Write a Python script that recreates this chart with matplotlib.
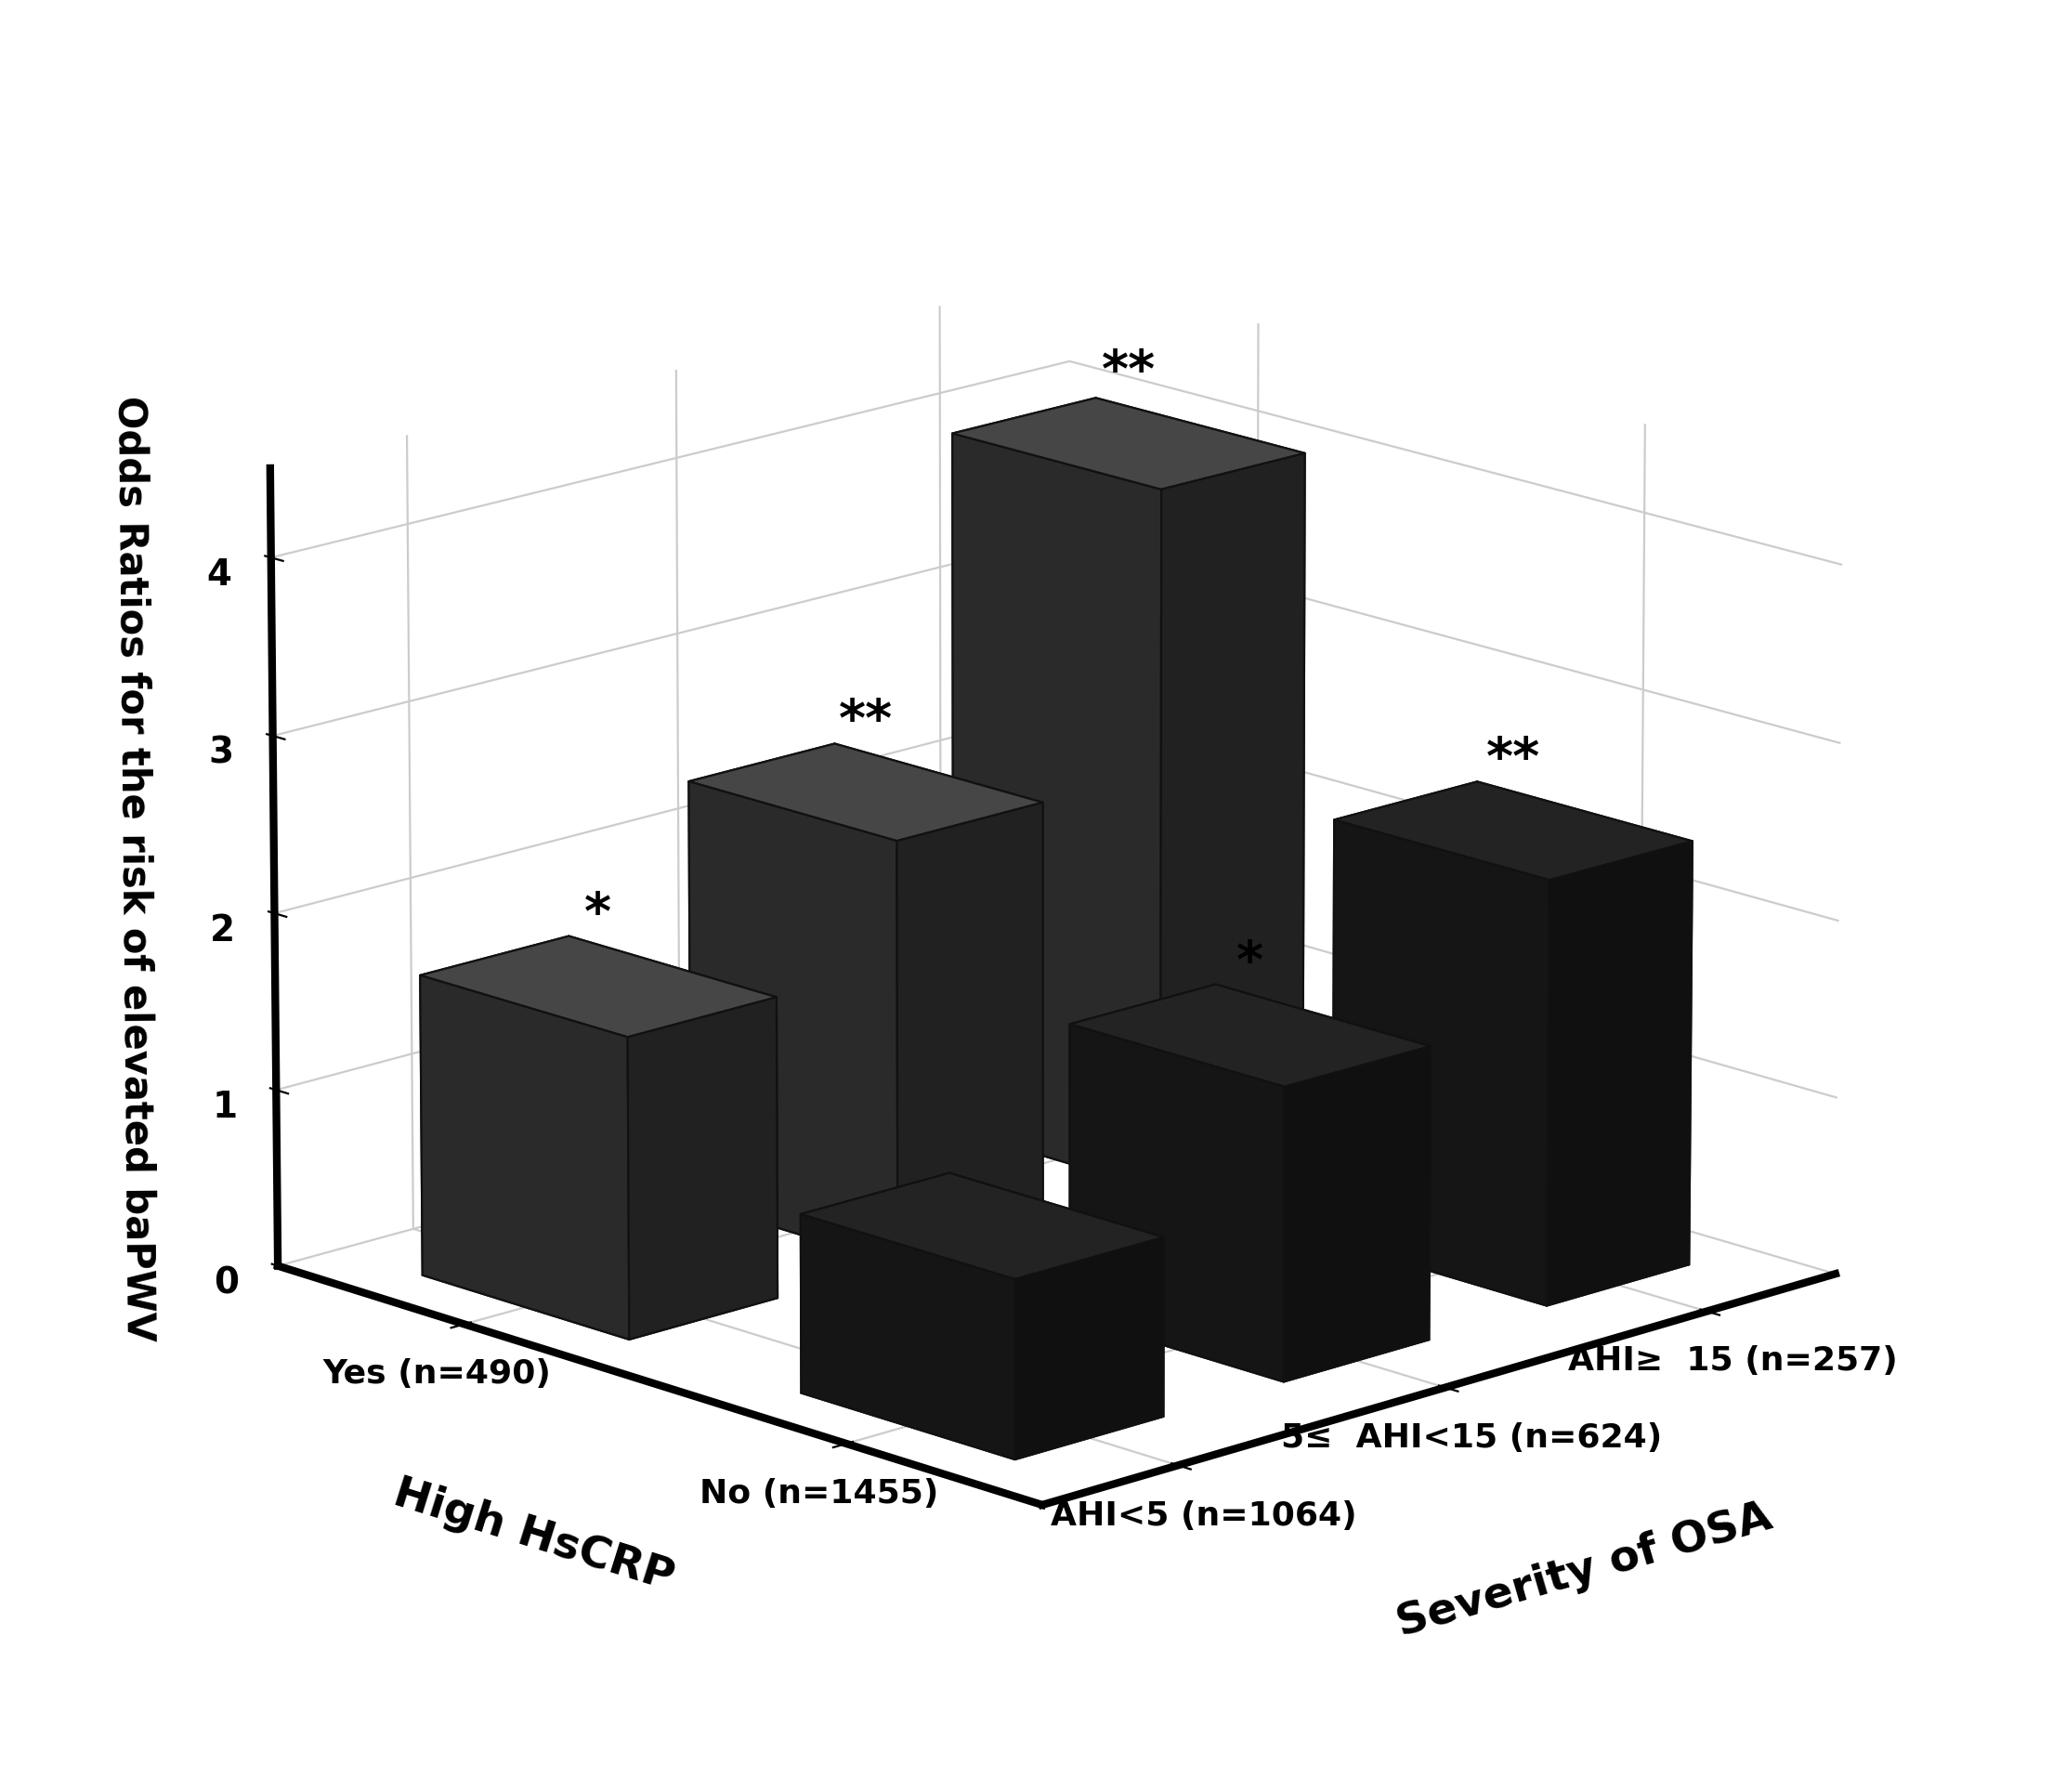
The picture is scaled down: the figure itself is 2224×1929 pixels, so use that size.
import numpy as np
import matplotlib
matplotlib.use("Agg")
import matplotlib.pyplot as plt
from matplotlib.colors import LightSource

osa_labels = ["AHI<5 (n=1064)", "5\u2264  AHI<15 (n=624)", "AHI\u2265  15 (n=257)"]
crp_labels = ["Yes (n=490)", "No (n=1455)"]
or_yes = [1.7, 2.4, 4.0]
or_no = [1.0, 1.65, 2.4]
sig_yes = ["*", "**", "**"]
sig_no = ["", "*", "**"]

fig = plt.figure(figsize=(11.12, 9.645), dpi=200)
ax = fig.add_axes([0.02, 0.02, 0.96, 0.96], projection="3d")
ax.set_proj_type("persp", focal_length=2.5)
ax.view_init(elev=16, azim=-44)

w = 0.55
ls = LightSource(azdeg=300, altdeg=30)
# x: HsCRP (0=Yes back-left, 1=No near corner), y: OSA severity
for vals, sigs, xi, col in [(or_yes, sig_yes, 0, "#555555"), (or_no, sig_no, 1, "#2a2a2a")]:
    for yi, (v, s) in enumerate(zip(vals, sigs)):
        ax.bar3d(xi - w / 2, yi - w / 2, 0, w, w, v, color=col, edgecolor="#111111",
                 linewidth=0.8, shade=True, lightsource=ls)
        if s:
            ax.text(xi, yi, v + 0.4, s, ha="center", va="center", fontsize=20, fontweight="bold")

ax.set_xlim(-0.5, 1.5)
ax.set_ylim(-0.5, 2.5)
ax.set_zlim(0, 4.5)
ax.set_xticks([0, 1])
ax.set_xticklabels(crp_labels, fontsize=13, fontweight="bold")
ax.set_yticks([0, 1, 2])
ax.set_yticklabels(osa_labels, fontsize=13, fontweight="bold")
ax.set_zticks([0, 1, 2, 3, 4])
ax.set_zticklabels(["0", "1", "2", "3", "4"], fontsize=14, fontweight="bold")
ax.set_xlabel("High HsCRP", fontsize=17, fontweight="bold", labelpad=30)
ax.set_ylabel("Severity of OSA", fontsize=17, fontweight="bold", labelpad=40)
ax.set_zlabel("Odds Ratios for the risk of elevated baPWV", fontsize=15, fontweight="bold", labelpad=10)
ax.zaxis._axinfo["juggled"] = (1, 2, 0)

for a in (ax.xaxis, ax.yaxis, ax.zaxis):
    a.set_pane_color((1, 1, 1, 1))
    a._axinfo["grid"]["color"] = "#cccccc"
    a._axinfo["grid"]["linewidth"] = 0.8
    a.line.set_linewidth(3)
    a.line.set_color("black")

fig.savefig("out.png", dpi=200)
